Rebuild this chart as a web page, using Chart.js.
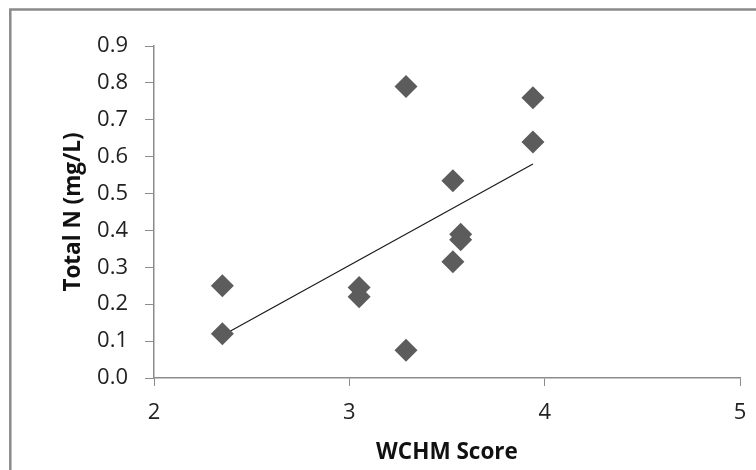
<!DOCTYPE html>
<html>
<head>
<meta charset="utf-8">
<script src="https://cdn.jsdelivr.net/npm/chart.js@4"></script>
<style>
  html, body { margin: 0; padding: 0; background: #fff; }
  #wrap { width: 756px; height: 470px; position: relative; }
</style>
</head>
<body>
<div id="wrap"><canvas id="scatter-chart" width="756" height="470"></canvas></div>
<script>
// WCHM score vs total nitrogen
const wchmScore = [2.35, 2.35, 3.05, 3.05, 3.29, 3.29, 3.53, 3.53, 3.57, 3.57, 3.94, 3.94];
const totalN = [0.25, 0.12, 0.245, 0.22, 0.79, 0.075, 0.535, 0.315, 0.39, 0.375, 0.76, 0.64];

// trend line endpoints
const trendX = [2.35, 3.94];
const trendY = [0.115, 0.58];

const xTicks = [2, 3, 4, 5];
const yTicks = [0, 0.1, 0.2, 0.3, 0.4, 0.5, 0.6, 0.7, 0.8, 0.9];

const axisGrey = "#8c8c8c";
const tickFont = { family: "'Open Sans', sans-serif", size: 22 };
const titleFont = { family: "'Open Sans', sans-serif", size: 22.5, weight: "bold" };

const framePlugin = {
    id: "frame",
    beforeDraw(chart) {
        const ctx = chart.ctx;
        ctx.save();
        ctx.fillStyle = "#fff";
        ctx.fillRect(0, 0, chart.width, chart.height);
        ctx.strokeStyle = "#8a8a8a";
        ctx.lineWidth = 2.5;
        ctx.strokeRect(10.3, 9.5, 900, 600);
        ctx.restore();
    }
};

let ctx = document.getElementById("scatter-chart").getContext("2d");

let scatterChart = new Chart(ctx, {
    type: "scatter",
    data: {
        datasets: [{
            label: "Total N",
            data: wchmScore.map((x, i) => ({ x: x, y: totalN[i] })),
            pointStyle: "rectRot",
            pointRadius: 11.5,
            pointHoverRadius: 11.5,
            backgroundColor: "#5c5c5c",
            borderColor: "#5c5c5c",
            borderWidth: 0,
        }, {
            label: "Trend",
            type: "line",
            data: trendX.map((x, i) => ({ x: x, y: trendY[i] })),
            borderColor: "#1a1a1a",
            borderWidth: 1.2,
            pointRadius: 0,
            fill: false,
        }],
    },
    options: {
        responsive: false,
        animation: false,
        events: [],
        layout: {
            padding: { left: 10, top: 46, right: 16, bottom: 0 }
        },
        plugins: {
            legend: { display: false },
            tooltip: { enabled: false },
        },
        scales: {
            x: {
                type: "linear",
                min: 2,
                max: 5,
                afterBuildTicks: (scale) => { scale.ticks = xTicks.map(v => ({ value: v })); },
                afterFit: (scale) => {
                    scale.height = 92;
                    scale.paddingLeft = 0;
                    scale.paddingRight = 0;
                },
                grid: {
                    drawOnChartArea: false,
                    color: axisGrey,
                    tickLength: 8,
                    tickColor: axisGrey,
                },
                border: { color: axisGrey, width: 1.5 },
                ticks: {
                    color: "#222",
                    font: tickFont,
                    padding: 14,
                    maxRotation: 0,
                },
                title: {
                    display: true,
                    text: "WCHM Score",
                    color: "#111",
                    font: titleFont,
                    padding: { top: 6, bottom: 4 },
                },
            },
            y: {
                type: "linear",
                min: 0,
                max: 0.9,
                afterBuildTicks: (scale) => { scale.ticks = yTicks.map(v => ({ value: v })); },
                afterFit: (scale) => { scale.width = 144; },
                grid: {
                    drawOnChartArea: false,
                    color: axisGrey,
                    tickLength: 9,
                    tickColor: axisGrey,
                },
                border: { color: axisGrey, width: 1.5 },
                ticks: {
                    color: "#222",
                    font: tickFont,
                    padding: 17,
                    callback: (v) => v.toFixed(1),
                },
                title: {
                    display: true,
                    text: "Total N (mg/L)",
                    color: "#111",
                    font: titleFont,
                    padding: { top: 50, bottom: 0 },
                },
            },
        },
    },
    plugins: [framePlugin],
});
</script>
</body>
</html>
